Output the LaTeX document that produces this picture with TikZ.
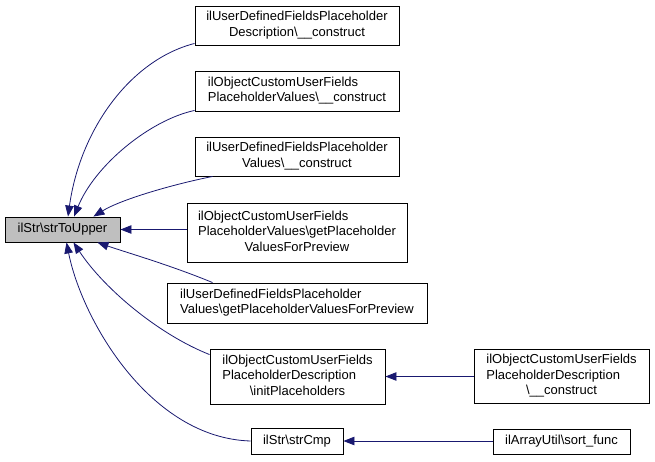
\documentclass[tikz,border=0pt]{standalone}
\usepackage{fontspec}
\setmainfont{Liberation Sans}
\usetikzlibrary{arrows.meta,calc}
\definecolor{edgeblue}{RGB}{25,25,112}
\definecolor{boxgray}{RGB}{191,191,191}
\newcommand{\bs}{\textbackslash}
\newcommand{\us}{\_}
\begin{document}
\begin{tikzpicture}[x=1pt,y=-1pt,
  fn/.style={draw=black,line width=0.9pt,fill=white,inner sep=0pt,font=\fontsize{13}{15.5}\selectfont},
  edge/.style={draw=edgeblue,line width=0.8pt,-{Triangle[length=11pt,width=8.5pt]}}]
\useasboundingbox (0,0) rectangle (655,461);
\node[fn,fill=boxgray,minimum width=115pt,minimum height=25pt] (A) at (62.5,229.5) {ilStr\bs strToUpper};
\node[fn,minimum width=204pt,minimum height=39pt] (B1) at (297,25.5)
  {\begin{tabular}{@{}c@{}}ilUserDefinedFieldsPlaceholder\\Description\bs\us\us construct\end{tabular}};
\node[fn,minimum width=204pt,minimum height=40pt] (B2) at (297,91)
  {\begin{tabular}{@{}l@{}}ilObjectCustomUserFields\\\multicolumn{1}{@{}c@{}}{PlaceholderValues\bs\us\us construct}\end{tabular}};
\node[fn,minimum width=204pt,minimum height=39pt] (B3) at (297,156.5)
  {\begin{tabular}{@{}c@{}}ilUserDefinedFieldsPlaceholder\\Values\bs\us\us construct\end{tabular}};
\node[fn,minimum width=220pt,minimum height=59pt] (B4) at (297,232.5)
  {\begin{tabular}{@{}l@{}}ilObjectCustomUserFields\\PlaceholderValues\bs getPlaceholder\\\multicolumn{1}{@{}c@{}}{ValuesForPreview}\end{tabular}};
\node[fn,minimum width=260pt,minimum height=40pt] (B5) at (297,303)
  {\begin{tabular}{@{}l@{}}ilUserDefinedFieldsPlaceholder\\\multicolumn{1}{@{}c@{}}{Values\bs getPlaceholderValuesForPreview}\end{tabular}};
\node[fn,minimum width=175pt,minimum height=55pt] (B6) at (297.5,376.5)
  {\begin{tabular}{@{}l@{}}ilObjectCustomUserFields\\PlaceholderDescription\\\multicolumn{1}{@{}c@{}}{\bs initPlaceholders}\end{tabular}};
\node[fn,minimum width=92pt,minimum height=26pt] (B7) at (297,441) {ilStr\bs strCmp};
\node[fn,minimum width=175pt,minimum height=54pt] (C1) at (561.5,376)
  {\begin{tabular}{@{}l@{}}ilObjectCustomUserFields\\PlaceholderDescription\\\multicolumn{1}{@{}c@{}}{\bs\us\us construct}\end{tabular}};
\node[fn,minimum width=137pt,minimum height=25pt] (C2) at (561.5,441.5) {ilArrayUtil\bs sort\us func};

\draw[edge] ($(B1.south west)+(0,-2)$) .. controls (130,60) and (80,130) .. ($(A.north)+(5.5,0)$);
\draw[edge] ($(B2.south west)+(0,-1)$) .. controls (150,120) and (95,165) .. ($(A.north)+(11.5,0)$);
\draw[edge] ($(B3.south west)+(18,0)$) .. controls (170,185) and (120,200) .. ($(A.north east)+(-27,0)$);
\draw[edge] (A.east -| B4.west) -- (A.east);
\draw[edge] ($(B5.north west)+(46,0)$) .. controls (170,265) and (125,252) .. ($(A.south east)+(-23,0)$);
\draw[edge] ($(B6.north west)+(0,6)$) .. controls (160,335) and (105,290) .. ($(A.south)+(11,0)$);
\draw[edge] (B7.west) .. controls (150,438) and (82,320) .. ($(A.south)+(4,0)$);
\draw[edge] (B6.east -| C1.west) -- (B6.east);
\draw[edge] (B7.east -| C2.west) -- (B7.east);
\end{tikzpicture}
\end{document}
